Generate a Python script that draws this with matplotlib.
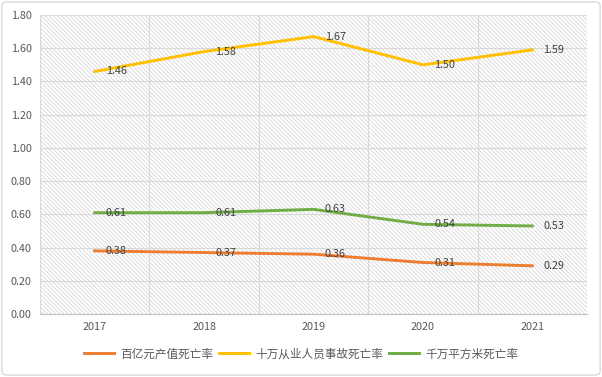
import matplotlib.pyplot as plt
from matplotlib.patches import FancyBboxPatch

plt.rcParams['font.family'] = ['Noto Sans CJK SC', 'DejaVu Sans']
plt.rcParams['hatch.linewidth'] = 0.5

years = ['2017', '2018', '2019', '2020', '2021']
output_rate = [0.38, 0.37, 0.36, 0.31, 0.29]
worker_rate = [1.46, 1.58, 1.67, 1.50, 1.59]
area_rate = [0.61, 0.61, 0.63, 0.54, 0.53]

series = [
    ('百亿元产值死亡率', output_rate, '#ED7D31'),
    ('十万从业人员事故死亡率', worker_rate, '#FFC000'),
    ('千万平方米死亡率', area_rate, '#70AD47'),
]

fig = plt.figure(figsize=(6.02, 3.77), dpi=100)
ax = fig.add_axes([40/602, 1-314/377, 547/602, 299/377])

# hatched plot background
ax.patch.set_facecolor('white')
ax.patch.set_hatch('\\' * 8)
ax.patch.set_edgecolor('#cfcfcf')

x = list(range(len(years)))
for name, vals, col in series:
    ax.plot(x, vals, color=col, lw=2.1, label=name, zorder=3)
    for xi, v in zip(x, vals):
        ax.annotate(f'{v:.2f}', (xi, v), xytext=(8, 0), textcoords='offset points',
                    va='center', ha='left', fontsize=7.8, color='#404040', zorder=4)

ax.set_xlim(-0.5, 4.5)
ax.set_ylim(0, 1.8)
ax.set_xticks(x)
ax.set_xticklabels(years)
ax.set_xticks([i - 0.5 for i in range(6)], minor=True)
ax.set_yticks([i * 0.2 for i in range(10)])
ax.set_yticklabels([f'{i * 0.2:.2f}' for i in range(10)])
ax.tick_params(axis='both', length=0, labelsize=7.8, labelcolor='#595959', pad=6)
ax.tick_params(axis='x', which='minor', length=0)
ax.grid(axis='y', color='#d9d9d9', lw=0.8)
ax.grid(axis='x', which='minor', color='#d9d9d9', lw=0.8)
ax.set_axisbelow(True)
for s in ['top', 'left', 'right']:
    ax.spines[s].set_visible(False)
ax.spines['bottom'].set_color('#bfbfbf')

leg = fig.legend(loc='center', bbox_to_anchor=(0.5, 1-354/377), ncol=3, frameon=False,
                 fontsize=8.4, handlelength=2.6, columnspacing=0.5, handletextpad=0.5)
for t in leg.get_texts():
    t.set_color('#595959')

border = FancyBboxPatch((0.003, 0.005), 0.994, 0.99, boxstyle='round,pad=0,rounding_size=0.01',
                        transform=fig.transFigure, fill=False, edgecolor='#d9d9d9', lw=1)
fig.patches.append(border)

fig.savefig('out.png', dpi=100)
